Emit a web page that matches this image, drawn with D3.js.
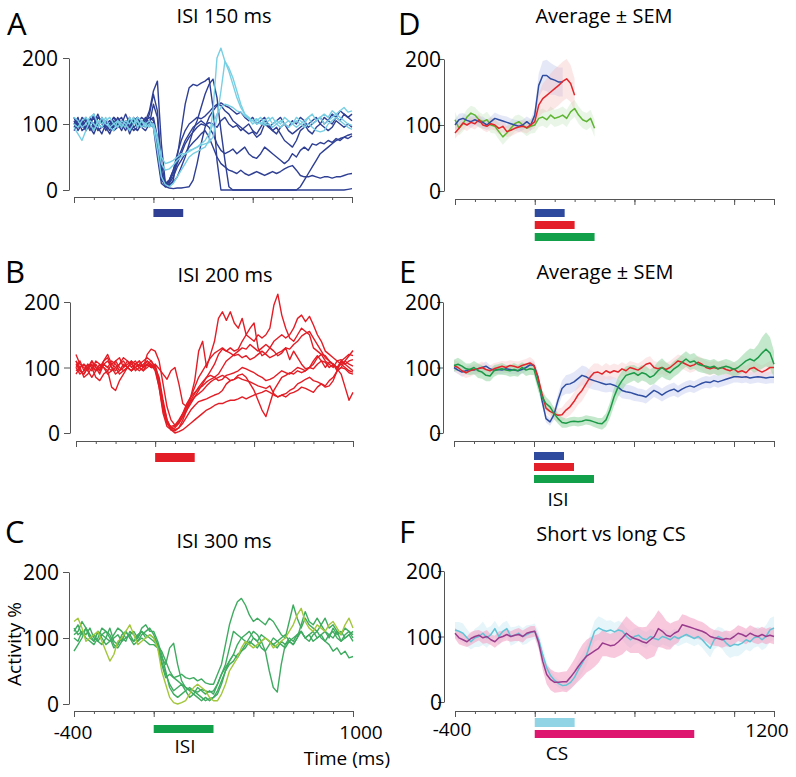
<!DOCTYPE html>
<html><head><meta charset="utf-8">
<script src="https://cdn.jsdelivr.net/npm/d3@7"></script>
<style>body{margin:0;background:#fff}svg{display:block}text{font-family:"Open Sans",sans-serif;fill:#000}</style>
</head><body><svg id="c" width="796" height="777"></svg>
<script>
// ---------- DATA (time from -400 ms, step 20 ms) ----------
const tStart = -400, tStep = 20;
const yTicks = [0, 100, 200];

// Panel A  – ISI 150 ms (dark = one group, light = other group)
const aDark = [
 [110,95,105,90,100,115,95,85,100,105,95,110,100,90,105,95,100,110,105,120,
  150,165,70,10,5,15,50,90,130,155, 160,158,162,165,170,125,45,0,0,0, 0,0,0,0,0,0,0,0,0,0, 0,0,0,0,0,0,0,5,15,25, 35,45,55,60,65,70,75,78,80,83, 85],
 [100,110,90,95,105,100,115,100,95,85,100,105,110,95,100,90,95,105,100,115,
  145,120,30,5,8,12,20,35,50,70, 90,105,125,145,160,168,140,90,45,5, 0,0,0,0,0,0,0,0,0,0, 0,0,0,0,0,0,0,0,0,0, 0,0,0,0,0,0,0,0,0,1, 2],
 [95,105,100,90,110,95,100,105,90,100,110,100,95,105,85,100,110,95,100,105,
  100,70,25,5,3,2,3,3,4,5, 15,40,70,95,110,120,128,132,128,125, 120,115,118,110,105,110,100,105,110,95, 100,105,110,100,95,105,100,110,105,95, 100,105,110,100,105,115,110,120,115,110, 115],
 [105,90,100,110,95,85,100,95,105,100,90,95,105,100,110,95,90,100,105,110,
  105,60,15,8,15,30,45,60,75,85, 95,100,105,100,95,85,70,60,55,58, 62,55,60,65,55,50,48,55,65,60, 55,50,45,40,45,55,50,60,65,60, 70,68,72,70,75,72,78,75,80,78, 82],
 [90,100,105,95,100,110,90,95,100,105,95,100,90,105,95,110,100,95,90,100,
  95,50,10,5,10,20,35,45,55,65, 72,78,85,90,80,65,50,40,35,30, 28,25,30,25,22,25,28,25,22,25, 28,25,28,32,35,37,30,22,20,20, 22,20,18,20,20,18,20,20,22,24, 25],
 [100,95,110,105,90,100,95,110,100,90,105,95,100,115,100,105,95,100,110,100,
  130,110,40,10,15,30,55,75,90,100, 105,110,108,112,118,125,130,128,120,115, 105,100,95,90,85,88,80,85,100,95, 90,95,85,75,70,65,75,90,95,100, 105,110,100,110,105,100,110,105,115,110, 105],
 [110,100,95,105,100,90,110,105,95,100,110,105,95,100,90,105,110,100,95,105,
  110,80,20,8,12,25,40,55,70,80, 88,95,100,98,102,100,95,105,110,100, 95,98,90,95,100,90,85,95,105,100, 90,85,95,100,90,85,90,95,100,90, 85,95,100,95,90,95,105,100,95,100, 95]
];
const aLight = [
 [95,85,75,90,105,100,95,110,100,95,90,105,100,95,110,100,105,95,100,105,
  95,60,20,8,5,10,20,30,40,50, 55,58,62,65,75,120,200,215,195,180, 160,140,125,115,110,105,108,100,105,110, 100,105,100,110,105,100,95,100,105,110, 100,105,110,100,105,110,115,120,125,118, 120],
 [110,105,95,100,110,115,100,95,105,110,100,95,105,100,90,100,110,105,95,100,
  100,75,40,30,32,38,45,50,55,58, 62,65,68,70,72,80,110,150,195,185, 170,150,130,115,108,100,105,110,100,105, 110,100,95,100,105,100,110,105,100,110, 115,105,110,115,110,120,115,110,105,100, 98],
 [100,95,105,110,100,90,105,100,110,95,100,105,95,105,100,110,95,105,100,95,
  100,80,50,40,42,45,50,55,55,60, 62,65,70,75,85,100,115,125,130,128, 125,120,118,112,108,105,100,102,98,100, 95,100,105,100,95,100,105,100,95,100, 95,90,88,90,100,105,110,105,100,95, 92]
];
const isiA = [0, 150];

// Panel B – ISI 200 ms
const bTraces = [
 [120,105,100,95,110,100,90,105,100,95,110,115,100,105,110,95,100,105,110,100,
  105,98,90,82,95,100,75,45,40,55, 80,125,140,100,120,140,175,185,172,185, 168,160,175,150,160,168,130,118,122,130, 125,118,122,130,112,125,115,105,98,100, 110,118,110,100,108,105,95,100,110,118, 126],
 [110,95,90,100,105,95,100,110,115,100,90,95,105,100,95,105,110,100,105,100,
  100,70,30,10,5,8,15,25,35,45, 55,65,75,85,95,105,120,128,125,130, 125,128,140,150,145,140,150,145,150,160, 195,212,180,160,145,140,150,160,155,150, 130,125,120,110,105,100,110,105,100,95, 93],
 [95,100,85,90,100,105,95,110,120,105,100,90,95,100,105,110,100,95,105,110,
  100,80,40,15,5,3,8,20,35,50, 60,70,78,85,88,85,90,100,110,115, 120,125,130,128,135,130,125,130,135,130, 140,145,150,145,150,160,175,180,170,178, 165,150,140,125,120,115,110,112,105,110, 112],
 [100,110,95,105,100,85,80,90,95,70,65,80,90,100,95,100,105,100,110,105,
  95,70,35,15,10,12,20,30,40,48, 55,60,65,72,78,82,85,88,85,80, 82,88,90,85,75,65,50,35,25,45, 65,75,85,88,92,90,95,92,95,100, 98,105,110,108,100,105,98,90,70,50, 62],
 [90,100,105,100,95,110,105,100,90,95,100,105,110,100,95,100,105,110,115,110,
  100,85,50,20,5,0,2,5,10,15, 20,25,30,35,38,42,45,45,48,50, 50,52,55,52,55,58,60,62,65,62, 58,55,58,55,60,62,65,70,68,65, 62,70,75,72,80,85,95,100,98,92, 90],
 [105,95,90,100,110,100,95,105,100,110,105,95,100,110,105,100,95,100,105,100,
  105,80,45,20,8,5,8,15,25,35, 42,48,50,52,55,58,60,65,75,80, 82,85,82,80,78,75,72,70,68,72, 60,55,58,60,65,68,75,78,82,85, 80,78,75,70,72,80,95,110,105,100, 95],
 [100,90,95,105,100,95,105,100,95,105,110,100,95,100,110,105,100,95,100,105,
  100,75,40,18,8,10,18,30,45,55, 62,68,72,78,82,85,80,82,88,90, 92,95,100,98,95,92,88,85,80,82, 85,90,95,92,90,95,100,98,95,100, 105,115,120,118,110,105,100,105,110,105, 102],
 [110,100,105,95,85,95,100,105,110,100,95,105,115,110,100,105,110,100,120,128,
  125,110,75,40,20,12,15,25,40,55, 70,85,95,105,115,122,126,130,125,122, 118,120,115,118,112,115,120,125,120,115, 118,122,125,130,128,135,140,148,152,155, 145,135,125,115,110,105,100,110,115,120, 118]
];
const isiB = [0, 200];

// Panel C – ISI 300 ms
const cGreen = [
 [110,120,105,115,100,95,110,105,100,115,95,90,105,110,100,95,105,110,100,105,
  100,90,60,40,45,40,42,45,40,38, 40,35,38,32,30,30,45,60,90,120, 140,155,160,150,135,125,130,125,120,130, 125,115,105,100,125,150,130,115,130,120, 115,110,120,130,115,120,110,105,115,110, 100],
 [80,90,100,115,105,95,110,100,90,95,100,105,95,110,100,90,95,105,110,115,
  105,90,70,60,85,92,60,35,25,20, 15,10,5,10,5,10,20,35,50,60, 65,75,80,90,100,110,105,95,80,50, 25,18,60,90,95,90,100,120,140,125, 120,130,120,110,105,100,110,95,100,105, 95],
 [105,110,125,115,100,105,95,90,100,95,105,115,110,100,105,95,100,110,105,100,
  95,88,80,65,50,40,35,30,25,22, 20,18,22,20,18,20,30,45,55,65, 75,90,100,105,110,100,95,105,100,95, 90,95,100,105,95,90,100,110,100,105, 110,100,105,95,90,80,85,75,80,70, 72],
 [115,105,110,100,95,90,100,115,110,105,90,85,95,100,105,110,100,115,120,110,
  110,95,75,50,25,15,10,15,20,25, 20,15,10,5,8,10,15,30,50,65, 75,70,80,85,95,90,85,95,100,95, 90,85,95,90,100,95,105,110,100,105, 95,100,105,110,100,115,105,110,100,105, 110],
 [100,95,110,105,115,100,95,105,110,100,85,90,100,95,110,105,95,100,95,90,
  90,85,65,45,30,20,25,30,20,10, 15,25,20,15,20,15,30,45,60,85, 110,105,100,95,90,100,95,85,80,90, 100,95,90,85,95,100,105,110,100,95, 105,110,100,95,105,110,100,95,105,110, 105]
];
const cYellow = [
 [125,130,115,95,100,105,110,95,80,65,75,95,100,110,120,105,90,95,100,105,
  100,85,50,30,10,2,0,2,5,15, 25,30,25,20,10,5,5,15,30,50, 60,70,85,95,90,85,90,95,100,95, 85,90,95,100,110,120,135,145,125,115, 110,120,115,110,120,125,115,105,120,130, 115]
];
const isiC = [0, 300];

// Panel D – averages during ISI
const dBlue = [100,108,110,107,105,108,105,104,100,105,110,108,106,104,102,100,98,100,105,100, 115,160,175,175,170,168,165,165];
const dBlueSem = [8,9,8,8,9,8,8,9,8,8,9,8,8,9,8,8,9,8,8,9, 10,18,22,24,24,22,22,22];
const dRed = [88,95,103,100,104,102,108,100,98,102,100,95,98,90,92,95,97,98,96,100, 105,130,140,145,150,155,160,166,170,163,145];
const dRedSem = [9,8,9,9,8,9,9,8,9,9,8,9,9,8,9,9,8,9,9,8, 10,18,22,25,28,30,30,30,30,28,25];
const dGreen = [108,95,102,112,118,115,108,105,108,100,98,90,82,88,95,102,105,100,95,98, 100,110,112,108,115,110,112,115,110,120,125,115,108,105,110,95];
const dGreenSem = [12,11,12,12,11,12,12,11,12,12,11,12,12,11,12,12,11,12,12,11, 12,13,13,13,13,13,13,13,13,13,13,13,13,13,13,13];
const isiD = [[0,150],[0,200],[0,300]];

// Panel E – averages ± SEM
const eBlue = [100,96,93,95,97,96,98,100,102,98,96,97,96,98,97,96,95,97,100,104,
 103,85,50,22,17,28,50,68,74,75, 78,83,88,86,82,80,78,76,74,75, 73,70,65,63,62,60,58,57,55,60, 65,62,58,62,65,67,63,67,70,72, 70,73,76,78,77,80,78,80,82,84, 86,86,85,86,84,85,86,85,84,85, 85];
const eBlueSem = [6,6,7,6,6,7,6,6,7,6,6,7,6,6,7,6,6,7,6,6,
 6,8,8,6,6,8,10,12,14,15, 15,15,15,15,14,14,13,13,12,12, 12,12,12,11,11,11,10,10,10,10, 10,10,10,10,10,10,9,9,9,9, 9,9,9,9,9,9,9,9,9,9, 9,9,9,9,9,9,9,9,9,9, 9];
const eRed = [103,100,95,92,95,97,98,100,97,95,98,100,102,100,103,102,100,103,105,107,
 103,85,60,38,33,30,27,28,35,40, 48,58,65,75,85,92,93,90,95,92, 95,93,98,95,100,98,96,100,105,107, 100,98,100,97,100,105,110,108,105,102, 104,108,105,100,98,100,98,100,97,95, 98,93,95,92,98,100,96,93,96,100, 100];
const eRedSem = [8,9,8,8,9,8,8,9,8,8,9,8,8,9,8,8,9,8,8,9,
 8,8,8,8,8,9,10,11,12,13, 14,15,16,16,15,14,13,12,12,11, 11,11,10,10,10,10,10,10,10,10, 10,10,10,10,10,10,10,10,10,10, 10,10,10,10,10,10,10,10,10,10, 10,10,10,10,10,10,10,10,10,10, 10];
const eGreen = [103,105,102,98,97,100,95,93,88,87,95,97,98,96,95,97,95,100,96,98,
 97,75,55,45,40,30,22,16,15,17, 18,17,18,20,19,17,15,14,20,35, 55,70,80,88,90,92,88,92,90,85, 88,95,100,95,92,98,102,108,113,108, 110,105,103,102,100,102,98,100,102,100, 97,100,105,110,113,110,115,122,128,122, 105];
const eGreenSem = [9,10,9,8,9,10,11,10,9,8,9,8,9,8,9,10,9,8,9,9,
 9,10,10,10,9,9,8,8,7,7, 7,7,7,7,7,8,8,9,10,12, 14,15,15,14,13,12,12,12,12,12, 13,14,14,13,12,12,12,12,12,12, 12,11,11,11,11,11,11,11,11,11, 11,12,13,14,16,18,20,24,26,24, 20];
const isiE = [[0,150],[0,200],[0,300]];

// Panel F – short vs long CS
const fShort = [110,108,105,98,92,98,100,105,98,103,112,100,108,112,100,102,105,100,103,106,
 108,95,72,52,40,33,28,25,26,30, 38,50,60,72,90,108,113,110,108,110, 107,110,108,100,95,100,102,97,95,100, 97,95,100,98,95,100,97,100,103,100, 97,100,95,88,82,95,100,97,90,85, 88,87,90,95,92,98,100,95,100,110, 113];
const fShortSem = [12,14,15,13,12,14,16,18,15,13,12,14,13,12,14,13,12,13,14,12,
 12,12,12,10,8,6,6,6,8,10, 12,14,15,15,15,16,18,18,16,15, 14,14,13,13,13,12,12,12,12,12, 12,12,12,12,12,12,12,12,12,12, 12,12,12,13,14,15,15,16,18,18, 18,17,16,15,15,15,15,16,17,18, 18];
const fLong = [105,98,95,92,97,100,102,98,100,95,92,98,100,103,100,102,103,100,105,107,
 108,90,62,42,34,30,30,31,31,38, 46,55,63,70,74,78,82,90,88,86, 87,92,98,105,100,97,95,92,90,95, 100,112,108,102,100,105,108,118,116,114, 112,110,108,105,100,98,97,95,97,96, 100,105,103,100,105,102,100,103,100,102, 100];
const fLongSem = [8,10,9,8,10,9,8,9,10,8,9,10,8,9,8,9,10,9,8,9,
 8,10,13,15,16,16,15,15,16,18, 20,23,25,25,25,24,22,20,18,18, 20,22,25,26,25,22,20,22,25,28, 30,28,25,22,20,18,17,16,16,15, 15,14,14,13,13,12,12,12,12,12, 12,12,12,12,12,12,12,12,12,12, 12];
const csF = [[0,200],[0,800]];

// ---------- STYLE / LAYOUT ----------
const C = {
  darkBlue:"#2e3f94", lightBlue:"#78cfe3", red:"#e31d25", green:"#3fab60", yellow:"#a3c63a",
  dBlue:"#2f4ea2", dRed:"#e3262b", dGreen:"#5db532", eGreen:"#1c9a47",
  barBlue:"#2e4a9f", barRed:"#e3202a", barGreen:"#13a04a",
  fCyan:"#62c3d6", fPurple:"#9a3c8e", barCyan:"#90d4e6", barMag:"#df1670", axis:"#555"
};
const svg = d3.select("#c");

function panel(p) {
  const x = d3.scaleLinear().domain(p.xd).range(p.xr);
  const y = d3.scaleLinear().domain([0, 200]).range(p.yr);
  const gy = svg.append("g").attr("transform", `translate(${p.yx},0)`)
    .call(d3.axisLeft(y).tickValues(yTicks).tickSize(6).tickSizeOuter(0).tickPadding(p.yx - 6 - p.labEnd));
  gy.attr("font-size", 21).attr("font-family", '"Open Sans",sans-serif');
  gy.selectAll("path,line").attr("stroke", C.axis);
  gy.selectAll("text").attr("fill", "#000").attr("dy", "0.36em");
  const minor = d3.range(p.xd[0], p.xd[1] + 1, 100);
  const gx = svg.append("g").attr("transform", `translate(0,${p.xy})`)
    .call(d3.axisBottom(x).tickValues(minor).tickSize(3).tickSizeOuter(0).tickFormat(""));
  gx.selectAll("path,line").attr("stroke", C.axis);
  const gx2 = svg.append("g").attr("transform", `translate(0,${p.xy})`)
    .call(d3.axisBottom(x).tickValues(p.major).tickSize(6).tickFormat(""));
  gx2.select(".domain").remove();
  gx2.selectAll("line").attr("stroke", C.axis);
  return {x, y};
}
function tOf(i) { return tStart + i * tStep; }
function drawLine(s, arr, color, w) {
  const line = d3.line().x((d, i) => s.x(tOf(i))).y(d => s.y(d));
  svg.append("path").datum(arr).attr("d", line).attr("fill", "none")
    .attr("stroke", color).attr("stroke-width", w).attr("stroke-linejoin", "round");
}
function drawBand(s, arr, sem, color, op) {
  const area = d3.area().x((d, i) => s.x(tOf(i))).y0((d, i) => s.y(d - sem[i])).y1((d, i) => s.y(d + sem[i]));
  svg.append("path").datum(arr).attr("d", area).attr("fill", color).attr("opacity", op);
}
function bar(s, r, y0, h, color) {
  svg.append("rect").attr("x", s.x(r[0])).attr("width", s.x(r[1]) - s.x(r[0]))
    .attr("y", y0).attr("height", h).attr("fill", color);
}
function txt(x, y, str, size, anchor) {
  return svg.append("text").attr("x", x).attr("y", y).attr("font-size", size)
    .attr("text-anchor", anchor || "middle").text(str);
}

// ---------- PANEL A ----------
const sA = panel({xd:[-400,1000], xr:[74,352], yr:[190,58], yx:69, labEnd:58, xy:197, major:[-400,0,500,1000]});
aDark.forEach(a => drawLine(sA, a, C.darkBlue, 1.4));
aLight.forEach(a => drawLine(sA, a, C.lightBlue, 1.4));
bar(sA, isiA, 209, 8, C.darkBlue);

// ---------- PANEL B ----------
const sB = panel({xd:[-400,1000], xr:[76,353], yr:[433,302], yx:70, labEnd:60, xy:441, major:[-400,0,500,1000]});
bTraces.forEach(a => drawLine(sB, a, C.red, 1.4));
bar(sB, isiB, 453, 9, C.red);

// ---------- PANEL C ----------
const sC = panel({xd:[-400,1000], xr:[74,353], yr:[704,572], yx:69, labEnd:59, xy:711, major:[-400,0,500,1000]});
cGreen.forEach(a => drawLine(sC, a, C.green, 1.4));
cYellow.forEach(a => drawLine(sC, a, C.yellow, 1.4));
bar(sC, isiC, 725, 8, C.barGreen);

// ---------- PANEL D ----------
const sD = panel({xd:[-400,1200], xr:[455,774], yr:[191,59], yx:444, labEnd:441, xy:199, major:[-400,0,500,1000,1200]});
drawBand(sD, dGreen, dGreenSem, "#a8dca0", 0.25);
drawBand(sD, dBlue, dBlueSem, "#aab4e2", 0.3);
drawBand(sD, dRed, dRedSem, "#f6b0b0", 0.3);
drawLine(sD, dGreen, C.dGreen, 1.5);
drawLine(sD, dBlue, C.dBlue, 1.5);
drawLine(sD, dRed, C.dRed, 1.5);
bar(sD, isiD[0], 209, 8, C.barBlue);
bar(sD, isiD[1], 221, 8, C.barRed);
bar(sD, isiD[2], 233, 8, C.barGreen);

// ---------- PANEL E ----------
const sE = panel({xd:[-400,1200], xr:[454,774], yr:[433,302], yx:443, labEnd:441, xy:441, major:[-400,0,500,1000,1200]});
drawBand(sE, eBlue, eBlueSem, "#cdd3f0", 0.55);
drawBand(sE, eRed, eRedSem, "#f9d2d2", 0.5);
drawBand(sE, eGreen, eGreenSem, "#93d6a2", 0.55);
drawLine(sE, eBlue, C.dBlue, 1.5);
drawLine(sE, eRed, C.dRed, 1.5);
drawLine(sE, eGreen, C.eGreen, 1.5);
bar(sE, isiE[0], 452, 8, C.barBlue);
bar(sE, isiE[1], 463, 8, C.barRed);
bar(sE, isiE[2], 475, 8, C.barGreen);

// ---------- PANEL F ----------
const sF = panel({xd:[-400,1200], xr:[455,774], yr:[702,571], yx:444, labEnd:442, xy:711, major:[-400,0,500,1000,1200]});
drawBand(sF, fShort, fShortSem, "#d6eff6", 0.6);
drawBand(sF, fLong, fLongSem, "#f3a3c7", 0.6);
drawLine(sF, fShort, C.fCyan, 1.5);
drawLine(sF, fLong, C.fPurple, 1.5);
bar(sF, csF[0], 718, 9, C.barCyan);
bar(sF, csF[1], 730, 8, C.barMag);

// ---------- TEXT ----------
txt(224, 23, "ISI 150 ms", 20);
txt(225, 282, "ISI 200 ms", 20);
txt(224, 548, "ISI 300 ms", 20);
txt(604, 23, "Average ± SEM", 20);
txt(605, 279, "Average ± SEM", 20);
txt(611, 541, "Short vs long CS", 20);
[["A",7,35],["B",5,283],["C",5,543],["D",398,35],["E",399,283],["F",399,543]]
  .forEach(l => txt(l[1], l[2], l[0], 31, "start"));
txt(73, 739, "-400", 19);
txt(361, 739, "1000", 19);
txt(185, 753, "ISI", 19);
txt(390, 765, "Time (ms)", 19, "end");
txt(452, 736, "-400", 19);
txt(767, 737, "1200", 19);
txt(557, 760, "CS", 19);
txt(558, 506, "ISI", 19);
svg.append("text").attr("transform", "translate(20.5,644) rotate(-90)")
  .attr("text-anchor", "middle").attr("font-size", 19).text("Activity %");
</script></body></html>
